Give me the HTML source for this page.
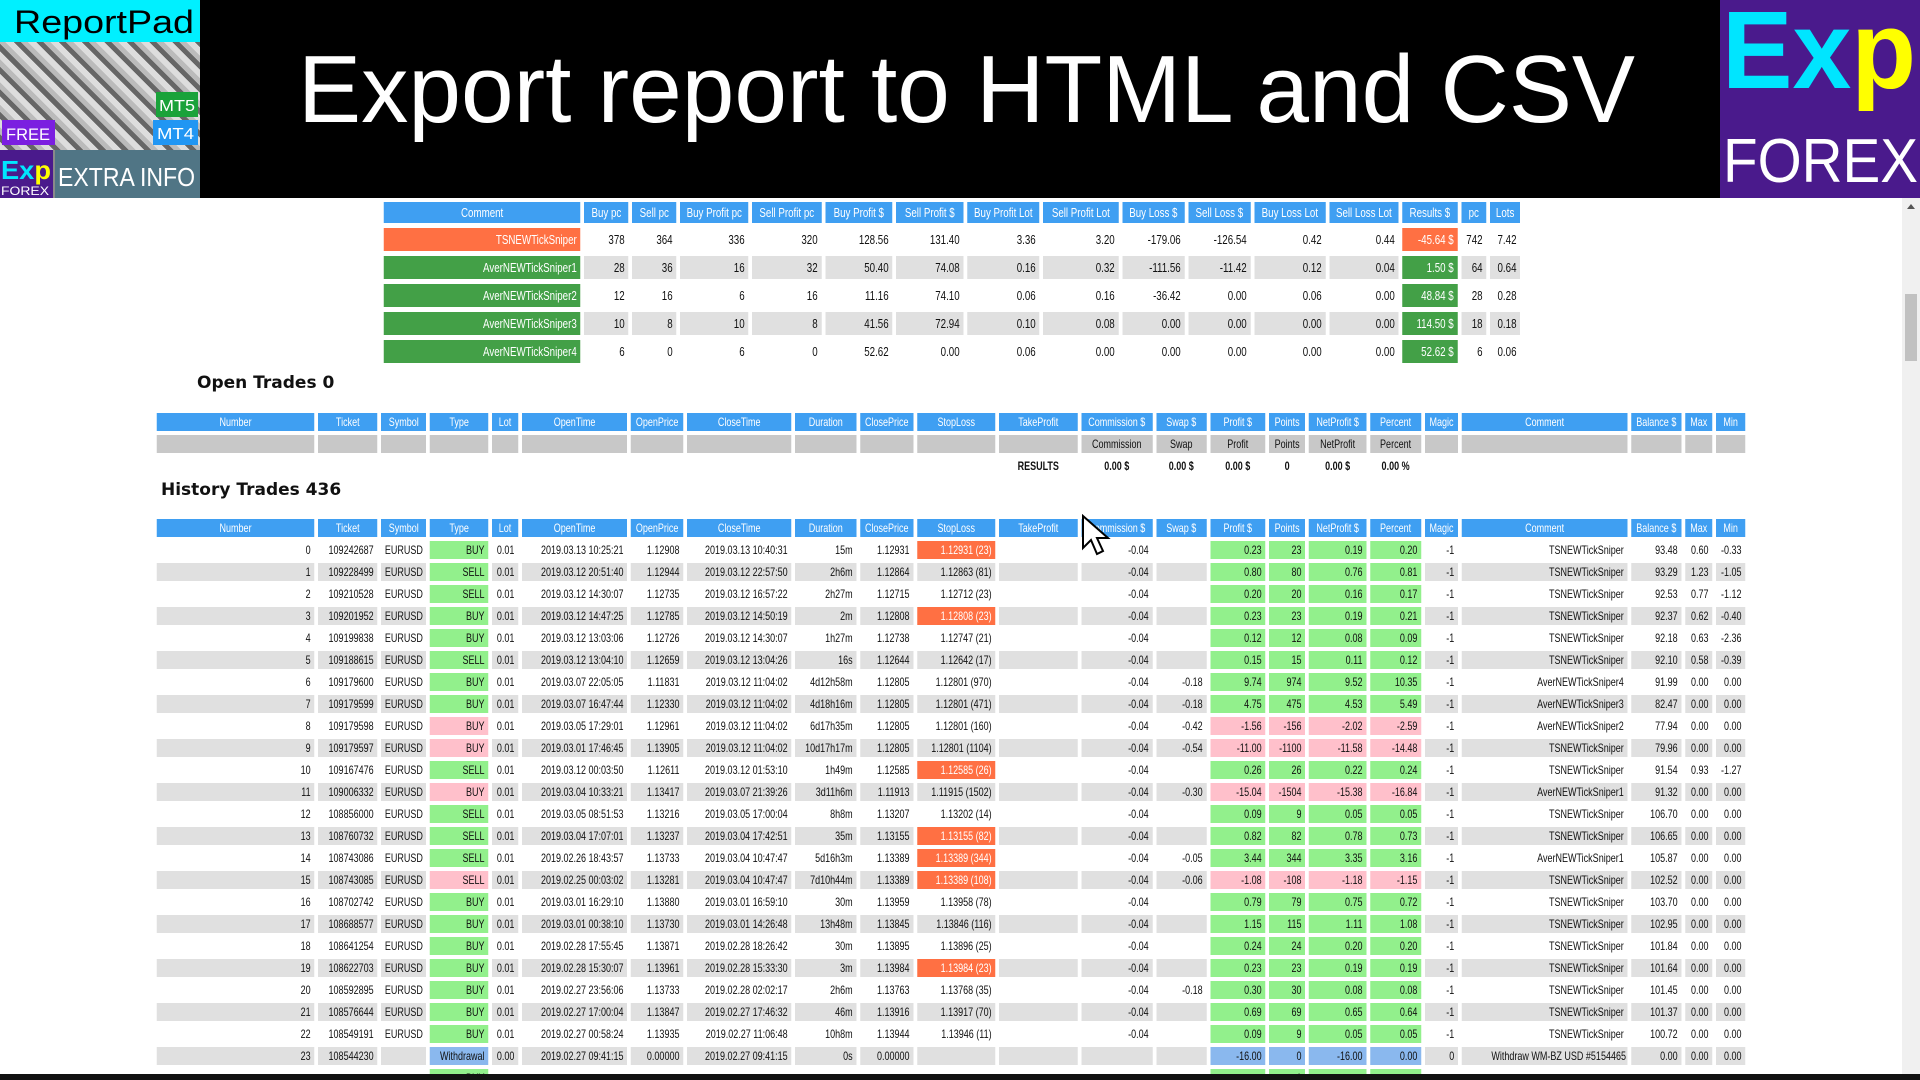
<!DOCTYPE html>
<html><head><meta charset="utf-8">
<style>
html,body{margin:0;padding:0;width:1920px;height:1080px;overflow:hidden;background:#fff;position:relative;
 font-family:"Liberation Sans",sans-serif;}
#banner{position:absolute;left:0;top:0;width:1920px;height:198px;background:#000;}
.abs{position:absolute;}
table{position:absolute;table-layout:fixed;border-collapse:separate;font-size:12px;color:#111;transform:scaleX(0.75);transform-origin:0 0;font-family:"Liberation Sans",sans-serif;}
td,th{padding:0 5px;white-space:nowrap;overflow:hidden;box-sizing:border-box;}
th{background:#3f9ff2;color:#fff;font-weight:normal;text-align:center;}
td{text-align:right;}
#summary{left:380px;top:197px;border-spacing:5.333px 5px;font-size:13px;}
#summary th{height:21px;}
#summary td{height:23px;}
#hist,#open{left:153px;border-spacing:5.333px 4px;}
#hist{top:515px;}
#open{top:409px;}
#hist th,#open th,#hist td,#open td{height:18px;}
.g{background:#e0e0e0;}
.gr{background:#c8c8c8;}
.lg{background:#92f08c;}
.pk{background:#ffc0cb;}
.or{background:#ff7043;color:#fff;}
.bl{background:#8ab8ee;}
.dg{background:#43a047;color:#fff;}
.res td{font-weight:bold;text-align:center;}
h2{position:absolute;margin:0;font-size:17px;font-weight:bold;font-family:"DejaVu Sans","Liberation Sans",sans-serif;color:#111;}
</style></head>
<body>
<div id="banner">
 <div class="abs" style="left:0;top:0;width:200px;height:198px;background:#8a8a8a;">
  <div class="abs" style="left:0;top:0;width:200px;height:42px;background:#00f0ff;"></div>
  <div class="abs" style="left:0;top:42px;width:200px;height:108px;background:repeating-linear-gradient(45deg,#ddd 0 6px,#666 6px 11px,#bbb 11px 16px);"></div>
  <div class="abs" style="left:156px;top:92px;width:42px;height:25px;background:#1aa23a;"></div>
  <div class="abs" style="left:153px;top:120px;width:45px;height:25px;background:#2196f3;"></div>
  <div class="abs" style="left:2px;top:120px;width:53px;height:25px;background:#7b1fe0;"></div>
  <div class="abs" style="left:0;top:150px;width:53px;height:48px;background:#4a1a8c;"></div>
  <div class="abs" style="left:55px;top:150px;width:145px;height:48px;background:#507585;"></div>
  <svg class="abs" style="left:0;top:0" width="200" height="198">
   <text x="14" y="33" font-size="32" fill="#000" textLength="180" lengthAdjust="spacingAndGlyphs">ReportPad</text>
   <text x="159" y="111" font-size="16" fill="#fff" textLength="36" lengthAdjust="spacingAndGlyphs">MT5</text>
   <text x="157" y="139" font-size="16" fill="#fff" textLength="37" lengthAdjust="spacingAndGlyphs">MT4</text>
   <text x="6" y="140" font-size="17" fill="#fff" textLength="44" lengthAdjust="spacingAndGlyphs">FREE</text>
   <text x="1" y="179" font-size="26" font-weight="bold" fill="#00e5ff" textLength="50" lengthAdjust="spacingAndGlyphs">Ex<tspan fill="#ffff00">p</tspan></text>
   <text x="1" y="195" font-size="12" fill="#fff" textLength="48" lengthAdjust="spacingAndGlyphs">FOREX</text>
   <text x="58" y="186" font-size="26" fill="#fff" textLength="137" lengthAdjust="spacingAndGlyphs">EXTRA INFO</text>
  </svg>
 </div>
 <svg class="abs" style="left:0;top:0" width="1720" height="198">
  <text x="298" y="122" fill="#fff" font-family="Liberation Sans, sans-serif" font-size="96" textLength="1337" lengthAdjust="spacingAndGlyphs">Export report to HTML and CSV</text>
 </svg>
 <div class="abs" style="left:1720px;top:0;width:200px;height:198px;background:#4a1a8c;">
  <svg class="abs" style="left:0;top:0" width="200" height="198">
   <text x="2" y="88" font-size="110" font-weight="bold" fill="#00e5ff" textLength="194" lengthAdjust="spacingAndGlyphs">Ex<tspan fill="#ffff00">p</tspan></text>
   <text x="3" y="182" font-size="62" fill="#fff" textLength="195" lengthAdjust="spacingAndGlyphs">FOREX</text>
  </svg>
 </div>
</div>

<table id="summary">
 <colgroup id="cg0"></colgroup>
 <thead><tr id="sumhead"></tr></thead><tbody id="sumbody"></tbody>
</table>

<h2 style="left:197px;top:373px;">Open Trades 0</h2>
<table id="open"><colgroup id="cg1"></colgroup><thead><tr id="openhead"></tr></thead><tbody id="openbody"></tbody></table>

<h2 style="left:161px;top:480px;">History Trades 436</h2>
<table id="hist"><colgroup id="cg2"></colgroup><thead><tr id="histhead"></tr></thead><tbody id="histbody"></tbody></table>

<div class="abs" style="left:1902px;top:198px;width:18px;height:876px;background:#f0f0f0;">
 <div class="abs" style="left:5px;top:6px;width:0;height:0;border-left:4px solid transparent;border-right:4px solid transparent;border-bottom:5px solid #555;"></div>
 <div class="abs" style="left:3px;top:96px;width:12px;height:67px;background:#c1c1c1;"></div>
</div>
<div class="abs" style="left:0;top:1074px;width:1920px;height:6px;background:#111;"></div>
<svg class="abs" style="left:1081px;top:514px" width="30" height="44">
 <path d="M2 2 L2 34 L10 26 L16 40 L22 37 L16 24 L27 24 Z" fill="#fff" stroke="#000" stroke-width="2"/>
</svg>

<script>
const sumHeaders=["Comment","Buy pc","Sell pc","Buy Profit pc","Sell Profit pc","Buy Profit $","Sell Profit $","Buy Profit Lot","Sell Profit Lot","Buy Loss $","Sell Loss $","Buy Loss Lot","Sell Loss Lot","Results $","pc","Lots"];
const sumW=[196,44,44,68,69,67,67,72,75,62,62,71,69,55,25,30];
const sumRows=[
"TSNEWTickSniper|378|364|336|320|128.56|131.40|3.36|3.20|-179.06|-126.54|0.42|0.44|-45.64 $|742|7.42",
"AverNEWTickSniper1|28|36|16|32|50.40|74.08|0.16|0.32|-111.56|-11.42|0.12|0.04|1.50 $|64|0.64",
"AverNEWTickSniper2|12|16|6|16|11.16|74.10|0.06|0.16|-36.42|0.00|0.06|0.00|48.84 $|28|0.28",
"AverNEWTickSniper3|10|8|10|8|41.56|72.94|0.10|0.08|0.00|0.00|0.00|0.00|114.50 $|18|0.18",
"AverNEWTickSniper4|6|0|6|0|52.62|0.00|0.06|0.00|0.00|0.00|0.00|0.00|52.62 $|6|0.06"];
const histHeaders=["Number","Ticket","Symbol","Type","Lot","OpenTime","OpenPrice","CloseTime","Duration","ClosePrice","StopLoss","TakeProfit","Commission $","Swap $","Profit $","Points","NetProfit $","Percent","Magic","Comment","Balance $","Max","Min"];
const colW=[157,59,45,58,26,105,52,104,61,53,78,78,71,50,55,36,57,51,33,165,50,27,29];
const histRows=[
"0|109242687|EURUSD|BUY|0.01|2019.03.13 10:25:21|1.12908|2019.03.13 10:40:31|15m|1.12931|1.12931 (23)*||-0.04||0.23|23|0.19|0.20|-1|TSNEWTickSniper|93.48|0.60|-0.33",
"1|109228499|EURUSD|SELL|0.01|2019.03.12 20:51:40|1.12944|2019.03.12 22:57:50|2h6m|1.12864|1.12863 (81)||-0.04||0.80|80|0.76|0.81|-1|TSNEWTickSniper|93.29|1.23|-1.05",
"2|109210528|EURUSD|SELL|0.01|2019.03.12 14:30:07|1.12735|2019.03.12 16:57:22|2h27m|1.12715|1.12712 (23)||-0.04||0.20|20|0.16|0.17|-1|TSNEWTickSniper|92.53|0.77|-1.12",
"3|109201952|EURUSD|BUY|0.01|2019.03.12 14:47:25|1.12785|2019.03.12 14:50:19|2m|1.12808|1.12808 (23)*||-0.04||0.23|23|0.19|0.21|-1|TSNEWTickSniper|92.37|0.62|-0.40",
"4|109199838|EURUSD|BUY|0.01|2019.03.12 13:03:06|1.12726|2019.03.12 14:30:07|1h27m|1.12738|1.12747 (21)||-0.04||0.12|12|0.08|0.09|-1|TSNEWTickSniper|92.18|0.63|-2.36",
"5|109188615|EURUSD|SELL|0.01|2019.03.12 13:04:10|1.12659|2019.03.12 13:04:26|16s|1.12644|1.12642 (17)||-0.04||0.15|15|0.11|0.12|-1|TSNEWTickSniper|92.10|0.58|-0.39",
"6|109179600|EURUSD|BUY|0.01|2019.03.07 22:05:05|1.11831|2019.03.12 11:04:02|4d12h58m|1.12805|1.12801 (970)||-0.04|-0.18|9.74|974|9.52|10.35|-1|AverNEWTickSniper4|91.99|0.00|0.00",
"7|109179599|EURUSD|BUY|0.01|2019.03.07 16:47:44|1.12330|2019.03.12 11:04:02|4d18h16m|1.12805|1.12801 (471)||-0.04|-0.18|4.75|475|4.53|5.49|-1|AverNEWTickSniper3|82.47|0.00|0.00",
"8|109179598|EURUSD|BUY|0.01|2019.03.05 17:29:01|1.12961|2019.03.12 11:04:02|6d17h35m|1.12805|1.12801 (160)||-0.04|-0.42|-1.56|-156|-2.02|-2.59|-1|AverNEWTickSniper2|77.94|0.00|0.00",
"9|109179597|EURUSD|BUY|0.01|2019.03.01 17:46:45|1.13905|2019.03.12 11:04:02|10d17h17m|1.12805|1.12801 (1104)||-0.04|-0.54|-11.00|-1100|-11.58|-14.48|-1|TSNEWTickSniper|79.96|0.00|0.00",
"10|109167476|EURUSD|SELL|0.01|2019.03.12 00:03:50|1.12611|2019.03.12 01:53:10|1h49m|1.12585|1.12585 (26)*||-0.04||0.26|26|0.22|0.24|-1|TSNEWTickSniper|91.54|0.93|-1.27",
"11|109006332|EURUSD|BUY|0.01|2019.03.04 10:33:21|1.13417|2019.03.07 21:39:26|3d11h6m|1.11913|1.11915 (1502)||-0.04|-0.30|-15.04|-1504|-15.38|-16.84|-1|AverNEWTickSniper1|91.32|0.00|0.00",
"12|108856000|EURUSD|SELL|0.01|2019.03.05 08:51:53|1.13216|2019.03.05 17:00:04|8h8m|1.13207|1.13202 (14)||-0.04||0.09|9|0.05|0.05|-1|TSNEWTickSniper|106.70|0.00|0.00",
"13|108760732|EURUSD|SELL|0.01|2019.03.04 17:07:01|1.13237|2019.03.04 17:42:51|35m|1.13155|1.13155 (82)*||-0.04||0.82|82|0.78|0.73|-1|TSNEWTickSniper|106.65|0.00|0.00",
"14|108743086|EURUSD|SELL|0.01|2019.02.26 18:43:57|1.13733|2019.03.04 10:47:47|5d16h3m|1.13389|1.13389 (344)*||-0.04|-0.05|3.44|344|3.35|3.16|-1|AverNEWTickSniper1|105.87|0.00|0.00",
"15|108743085|EURUSD|SELL|0.01|2019.02.25 00:03:02|1.13281|2019.03.04 10:47:47|7d10h44m|1.13389|1.13389 (108)*||-0.04|-0.06|-1.08|-108|-1.18|-1.15|-1|TSNEWTickSniper|102.52|0.00|0.00",
"16|108702742|EURUSD|BUY|0.01|2019.03.01 16:29:10|1.13880|2019.03.01 16:59:10|30m|1.13959|1.13958 (78)||-0.04||0.79|79|0.75|0.72|-1|TSNEWTickSniper|103.70|0.00|0.00",
"17|108688577|EURUSD|BUY|0.01|2019.03.01 00:38:10|1.13730|2019.03.01 14:26:48|13h48m|1.13845|1.13846 (116)||-0.04||1.15|115|1.11|1.08|-1|TSNEWTickSniper|102.95|0.00|0.00",
"18|108641254|EURUSD|BUY|0.01|2019.02.28 17:55:45|1.13871|2019.02.28 18:26:42|30m|1.13895|1.13896 (25)||-0.04||0.24|24|0.20|0.20|-1|TSNEWTickSniper|101.84|0.00|0.00",
"19|108622703|EURUSD|BUY|0.01|2019.02.28 15:30:07|1.13961|2019.02.28 15:33:30|3m|1.13984|1.13984 (23)*||-0.04||0.23|23|0.19|0.19|-1|TSNEWTickSniper|101.64|0.00|0.00",
"20|108592895|EURUSD|BUY|0.01|2019.02.27 23:56:06|1.13733|2019.02.28 02:02:17|2h6m|1.13763|1.13768 (35)||-0.04|-0.18|0.30|30|0.08|0.08|-1|TSNEWTickSniper|101.45|0.00|0.00",
"21|108576644|EURUSD|BUY|0.01|2019.02.27 17:00:04|1.13847|2019.02.27 17:46:32|46m|1.13916|1.13917 (70)||-0.04||0.69|69|0.65|0.64|-1|TSNEWTickSniper|101.37|0.00|0.00",
"22|108549191|EURUSD|BUY|0.01|2019.02.27 00:58:24|1.13935|2019.02.27 11:06:48|10h8m|1.13944|1.13946 (11)||-0.04||0.09|9|0.05|0.05|-1|TSNEWTickSniper|100.72|0.00|0.00",
"23|108544230||Withdrawal|0.00|2019.02.27 09:41:15|0.00000|2019.02.27 09:41:15|0s|0.00000|||||-16.00|0|-16.00|0.00|0|Withdraw WM-BZ USD #5154465|0.00|0.00|0.00",
"24|108540000|EURUSD|BUY|0.01|||||||||||1|||||||"];

const SC=4/3, SP=16/3;
function mk(tag,cls,txt){const e=document.createElement(tag);if(cls)e.className=cls;if(txt!==undefined)e.textContent=txt;return e;}
function setCols(cgId,tableId,widths){const cg=document.getElementById(cgId);let tot=SP;
 widths.forEach(w=>{const c=mk('col');c.style.width=(w*SC)+'px';cg.appendChild(c);tot+=w*SC+SP;});
 document.getElementById(tableId).style.width=tot+'px';}
setCols('cg0','summary',sumW);
setCols('cg1','open',colW);
setCols('cg2','hist',colW);
const sh=document.getElementById('sumhead');
sumHeaders.forEach(h=>{const th=mk('th','',h);


sh.appendChild(th);});
const sb=document.getElementById('sumbody');
sumRows.forEach((r,i)=>{const v=r.split('|');const tr=mk('tr');


v.forEach((x,j)=>{let c=(i%2)?'g':'';
 if(j===0)c=(parseFloat(v[13])<0)?'or':'dg';
 if(j===13)c=(parseFloat(x)<0)?'or':'dg';
 const td=mk('td',c,x);
 
 
 tr.appendChild(td);});
sb.appendChild(tr);});
['openhead','histhead'].forEach(id=>{const hr=document.getElementById(id);histHeaders.forEach(h=>{const th=mk('th','',h);


hr.appendChild(th);});});
const ob=document.getElementById('openbody');
const openLabels={12:'Commission',13:'Swap',14:'Profit',15:'Points',16:'NetProfit',17:'Percent'};
let tr=mk('tr');
histHeaders.forEach((h,j)=>{const td=mk('td','gr',openLabels[j]||'');td.style.textAlign='center';


tr.appendChild(td);});ob.appendChild(tr);
tr=mk('tr');tr.className='res';
const resVals={11:'RESULTS',12:'0.00 $',13:'0.00 $',14:'0.00 $',15:'0',16:'0.00 $',17:'0.00 %'};
histHeaders.forEach((h,j)=>{const td=mk('td','',resVals[j]||'');


tr.appendChild(td);});ob.appendChild(tr);
const hb=document.getElementById('histbody');
histRows.forEach((r,i)=>{const v=r.split('|');const tr=mk('tr');


const wd=v[3]==='Withdrawal';const neg=parseFloat(v[14])<0;
v.forEach((x,j)=>{let c=(i%2)?'g':'';let t=x;
 if(j===3||(j>=14&&j<=17)){c=wd?'bl':(neg?'pk':'lg');}
 if(j===10&&x.endsWith('*')){c='or';t=x.slice(0,-1);}
 if(i===24&&!(j===3||(j>=14&&j<=17)))t='';
 const td=mk('td',c,t);
 if(j===19&&wd)td.style.paddingRight='2px';
 
 
 tr.appendChild(td);});
hb.appendChild(tr);});
</script>
</body></html>
